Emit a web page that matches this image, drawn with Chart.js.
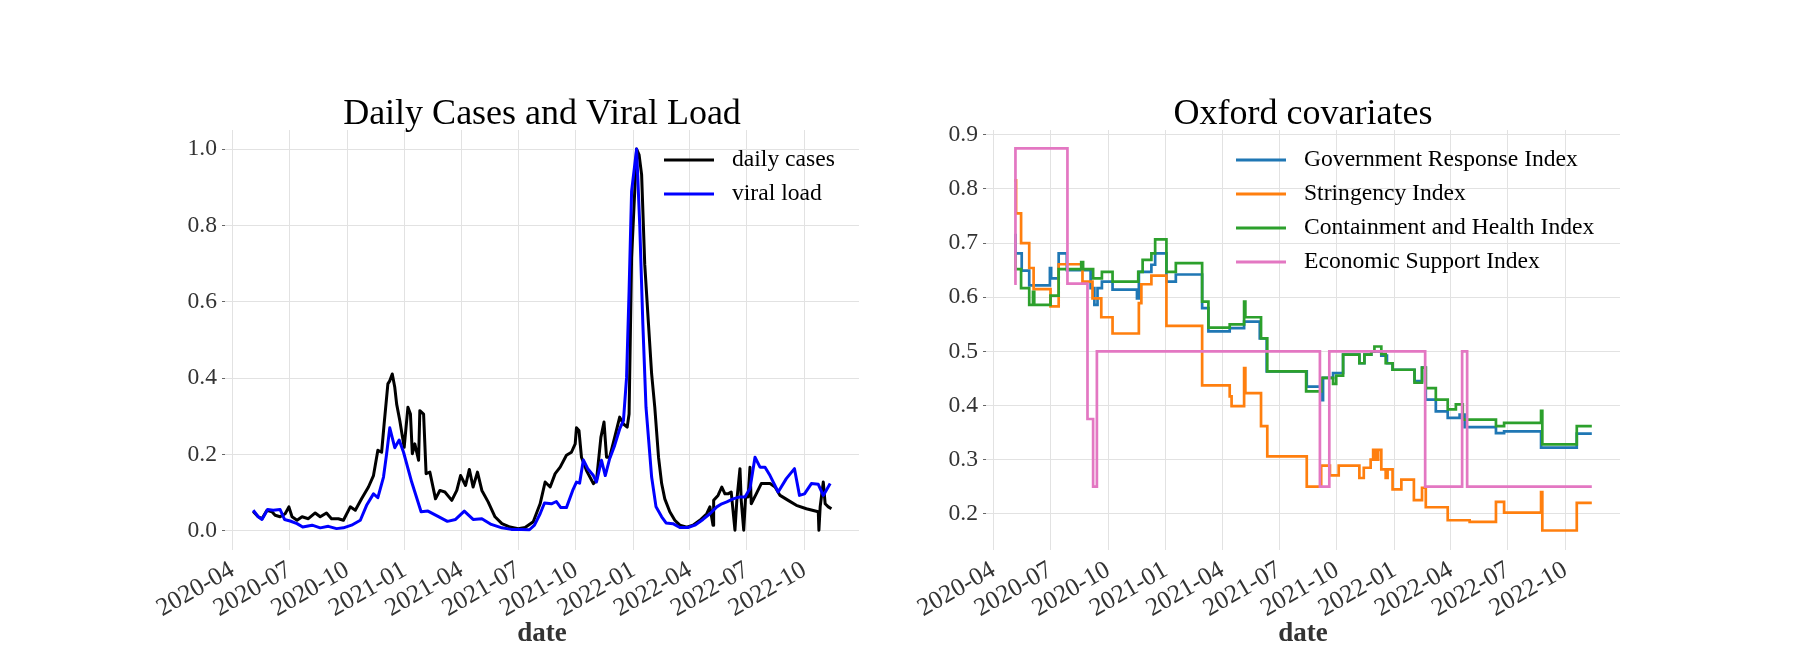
<!DOCTYPE html>
<html>
<head>
<meta charset="utf-8">
<title>Daily Cases and Viral Load / Oxford covariates</title>
<script src="https://cdn.jsdelivr.net/npm/chart.js@4.4.0/dist/chart.umd.min.js"></script>
<style>
  html, body { margin: 0; padding: 0; background: #fff; }
  #wrap { position: relative; width: 1800px; height: 648px; }
  canvas { position: absolute; top: 0; }
  #casesChart { left: 0; }
  #oxfordChart { left: 900px; }
</style>
</head>
<body>
<div id="wrap">
  <canvas id="casesChart" width="900" height="648"></canvas>
  <canvas id="oxfordChart" width="900" height="648"></canvas>
</div>
<script>
// x axis: quarter ticks
const tickDates = ['2020-04-01', '2020-07-01', '2020-10-01', '2021-01-01', '2021-04-01', '2021-07-01',
    '2021-10-01', '2022-01-01', '2022-04-01', '2022-07-01', '2022-10-01'];
const tickLabels = ['2020-04', '2020-07', '2020-10', '2021-01', '2021-04', '2021-07',
    '2021-10', '2022-01', '2022-04', '2022-07', '2022-10'];
const xMin = '2020-03-20';
const xMax = '2022-12-27';

// y axis ticks
const casesTicks = [0, 0.2, 0.4, 0.6, 0.8, 1.0];
const oxfordTicks = [0.2, 0.3, 0.4, 0.5, 0.6, 0.7, 0.8, 0.9];

// Daily cases (normalised)
const casesDates = [
    '2020-05-04', '2020-05-12', '2020-05-18', '2020-05-26', '2020-06-03', '2020-06-08', '2020-06-16', '2020-06-24', '2020-06-30', '2020-07-05',
    '2020-07-13', '2020-07-21', '2020-07-31', '2020-08-11', '2020-08-19', '2020-08-29', '2020-09-06', '2020-09-17', '2020-09-25', '2020-10-06',
    '2020-10-14', '2020-10-24', '2020-11-04', '2020-11-12', '2020-11-19', '2020-11-25', '2020-11-29', '2020-12-05', '2020-12-08', '2020-12-12',
    '2020-12-16', '2020-12-19', '2020-12-24', '2020-12-31', '2021-01-06', '2021-01-10', '2021-01-13', '2021-01-17', '2021-01-23', '2021-01-25',
    '2021-01-31', '2021-02-04', '2021-02-10', '2021-02-19', '2021-02-26', '2021-03-06', '2021-03-17', '2021-03-25', '2021-03-31', '2021-04-08',
    '2021-04-14', '2021-04-20', '2021-04-27', '2021-05-04', '2021-05-14', '2021-05-25', '2021-06-05', '2021-06-18', '2021-07-01', '2021-07-12',
    '2021-07-25', '2021-08-05', '2021-08-13', '2021-08-21', '2021-08-29', '2021-09-06', '2021-09-16', '2021-09-24', '2021-09-30', '2021-10-02',
    '2021-10-06', '2021-10-10', '2021-10-18', '2021-10-29', '2021-11-03', '2021-11-10', '2021-11-15', '2021-11-19', '2021-11-24', '2021-12-02',
    '2021-12-10', '2021-12-16', '2021-12-22', '2021-12-25', '2021-12-29', '2022-01-03', '2022-01-06', '2022-01-10', '2022-01-14', '2022-01-19',
    '2022-01-25', '2022-01-30', '2022-02-04', '2022-02-10', '2022-02-15', '2022-02-20', '2022-02-28', '2022-03-08', '2022-03-16', '2022-03-27',
    '2022-04-06', '2022-04-17', '2022-04-28', '2022-05-03', '2022-05-08', '2022-05-09', '2022-05-16', '2022-05-22', '2022-05-27', '2022-06-01',
    '2022-06-06', '2022-06-12', '2022-06-15', '2022-06-20', '2022-06-22', '2022-06-26', '2022-06-29', '2022-07-03', '2022-07-06', '2022-07-08',
    '2022-07-16', '2022-07-24', '2022-08-07', '2022-08-15', '2022-08-23', '2022-09-05', '2022-09-18', '2022-10-04', '2022-10-23', '2022-10-24',
    '2022-10-26', '2022-10-31', '2022-11-03', '2022-11-08', '2022-11-13'
];
const casesValues = [
    0.051, 0.037, 0.032, 0.054, 0.050, 0.041, 0.037, 0.045, 0.063, 0.037,
    0.028, 0.037, 0.032, 0.047, 0.037, 0.047, 0.032, 0.032, 0.028, 0.063,
    0.054, 0.084, 0.115, 0.145, 0.211, 0.206, 0.280, 0.385, 0.393, 0.411,
    0.376, 0.332, 0.289, 0.219, 0.324, 0.306, 0.202, 0.228, 0.185, 0.315,
    0.306, 0.150, 0.154, 0.084, 0.106, 0.102, 0.080, 0.106, 0.145, 0.119,
    0.161, 0.115, 0.154, 0.106, 0.076, 0.037, 0.019, 0.010, 0.006, 0.009,
    0.024, 0.071, 0.128, 0.115, 0.150, 0.167, 0.198, 0.206, 0.228, 0.270,
    0.263, 0.193, 0.158, 0.124, 0.132, 0.245, 0.285, 0.193, 0.193, 0.245,
    0.298, 0.280, 0.272, 0.306, 0.715, 0.889, 1.000, 0.985, 0.933, 0.698,
    0.541, 0.411, 0.324, 0.193, 0.124, 0.084, 0.050, 0.028, 0.015, 0.010,
    0.015, 0.028, 0.045, 0.063, 0.015, 0.080, 0.093, 0.115, 0.097, 0.097,
    0.102, 0.002, 0.080, 0.163, 0.080, 0.002, 0.089, 0.089, 0.167, 0.071,
    0.097, 0.124, 0.124, 0.115, 0.093, 0.080, 0.067, 0.058, 0.050, 0.002,
    0.063, 0.128, 0.071, 0.063, 0.058
];

// Viral load (normalised)
const viralDates = [
    '2020-05-04', '2020-05-12', '2020-05-18', '2020-05-27', '2020-06-05', '2020-06-16', '2020-06-23', '2020-07-02', '2020-07-13', '2020-07-22',
    '2020-08-06', '2020-08-19', '2020-09-01', '2020-09-14', '2020-09-25', '2020-10-08', '2020-10-22', '2020-11-01', '2020-11-12', '2020-11-19',
    '2020-11-28', '2020-12-03', '2020-12-08', '2020-12-16', '2020-12-23', '2020-12-30', '2021-01-12', '2021-01-27', '2021-02-07', '2021-02-23',
    '2021-03-10', '2021-03-23', '2021-04-06', '2021-04-20', '2021-05-04', '2021-05-19', '2021-06-05', '2021-06-20', '2021-07-06', '2021-07-19',
    '2021-07-27', '2021-08-05', '2021-08-12', '2021-08-23', '2021-08-31', '2021-09-07', '2021-09-16', '2021-09-26', '2021-10-02', '2021-10-07',
    '2021-10-13', '2021-10-20', '2021-10-29', '2021-11-03', '2021-11-11', '2021-11-17', '2021-11-24', '2021-12-02', '2021-12-10', '2021-12-16',
    '2021-12-21', '2021-12-25', '2021-12-29', '2022-01-06', '2022-01-11', '2022-01-16', '2022-01-21', '2022-01-30', '2022-02-06', '2022-02-15',
    '2022-02-22', '2022-03-05', '2022-03-16', '2022-03-29', '2022-04-09', '2022-04-22', '2022-05-03', '2022-05-14', '2022-05-22', '2022-05-30',
    '2022-06-09', '2022-06-20', '2022-06-28', '2022-07-06', '2022-07-14', '2022-07-22', '2022-07-30', '2022-08-07', '2022-08-20', '2022-09-02',
    '2022-09-15', '2022-09-23', '2022-10-01', '2022-10-12', '2022-10-23', '2022-10-31', '2022-11-11'
];
const viralValues = [
    0.054, 0.037, 0.030, 0.056, 0.054, 0.056, 0.030, 0.026, 0.019, 0.010,
    0.015, 0.008, 0.012, 0.006, 0.008, 0.015, 0.028, 0.067, 0.097, 0.087,
    0.141, 0.202, 0.270, 0.218, 0.238, 0.206, 0.128, 0.050, 0.052, 0.038,
    0.025, 0.030, 0.052, 0.030, 0.032, 0.017, 0.008, 0.004, 0.004, 0.003,
    0.015, 0.045, 0.073, 0.071, 0.077, 0.061, 0.061, 0.106, 0.128, 0.125,
    0.186, 0.163, 0.145, 0.128, 0.185, 0.145, 0.189, 0.224, 0.267, 0.289,
    0.402, 0.628, 0.889, 1.000, 0.802, 0.541, 0.324, 0.141, 0.063, 0.037,
    0.021, 0.019, 0.009, 0.009, 0.015, 0.030, 0.045, 0.063, 0.071, 0.076,
    0.084, 0.089, 0.089, 0.111, 0.193, 0.167, 0.167, 0.145, 0.102, 0.137,
    0.163, 0.093, 0.097, 0.124, 0.122, 0.093, 0.124
];

// Oxford indices: date of each change and the new value
const govDates = [
    '2020-05-04', '2020-05-06', '2020-05-16', '2020-05-28', '2020-06-30', '2020-07-02', '2020-07-14', '2020-07-27', '2020-09-03', '2020-09-09',
    '2020-09-14', '2020-09-21', '2020-10-08', '2020-11-16', '2020-11-19', '2020-12-09', '2020-12-15', '2021-01-02', '2021-01-17', '2021-02-28',
    '2021-03-10', '2021-04-13', '2021-05-06', '2021-05-31', '2021-06-11', '2021-08-14', '2021-09-06', '2021-09-09', '2021-09-25', '2021-10-11',
    '2021-11-06', '2021-11-14', '2021-11-25', '2021-12-11', '2021-12-20', '2021-12-29', '2022-02-02', '2022-02-14', '2022-02-20', '2022-03-08',
    '2022-03-27', '2022-04-15', '2022-04-23', '2022-06-12', '2022-06-25', '2022-08-23', '2022-10-19', '2022-11-12'
];
const govValues = [
    0.715, 0.681, 0.649, 0.622, 0.654, 0.635, 0.681, 0.650, 0.617, 0.586,
    0.617, 0.629, 0.614, 0.598, 0.647, 0.660, 0.681, 0.629, 0.642, 0.580,
    0.537, 0.543, 0.555, 0.524, 0.463, 0.435, 0.410, 0.451, 0.460, 0.494,
    0.478, 0.494, 0.500, 0.492, 0.478, 0.466, 0.445, 0.470, 0.411, 0.389,
    0.377, 0.383, 0.360, 0.349, 0.352, 0.322, 0.348, 0.348
];

const stringencyDates = [
    '2020-05-04', '2020-05-07', '2020-05-15', '2020-05-28', '2020-06-04', '2020-07-01', '2020-07-14', '2020-08-21', '2020-09-06', '2020-09-20',
    '2020-10-08', '2020-11-19', '2020-11-23', '2020-12-09', '2021-01-02', '2021-02-28', '2021-04-13', '2021-04-16', '2021-05-06', '2021-05-08',
    '2021-06-02', '2021-06-12', '2021-08-14', '2021-09-06', '2021-09-20', '2021-10-04', '2021-11-06', '2021-11-13', '2021-11-24', '2021-11-28',
    '2021-12-02', '2021-12-06', '2021-12-11', '2021-12-18', '2021-12-21', '2021-12-29', '2022-01-12', '2022-02-01', '2022-02-14', '2022-02-20',
    '2022-03-27', '2022-05-01', '2022-06-12', '2022-06-25', '2022-08-23', '2022-08-25', '2022-10-19', '2022-11-12'
];
const stringencyValues = [
    0.816, 0.755, 0.700, 0.654, 0.615, 0.583, 0.661, 0.629, 0.598, 0.563,
    0.533, 0.589, 0.624, 0.640, 0.547, 0.437, 0.417, 0.399, 0.469, 0.423,
    0.362, 0.306, 0.250, 0.289, 0.271, 0.289, 0.266, 0.285, 0.300, 0.318,
    0.300, 0.318, 0.282, 0.266, 0.282, 0.245, 0.263, 0.225, 0.248, 0.212,
    0.188, 0.185, 0.222, 0.202, 0.240, 0.169, 0.220, 0.220
];

const containmentDates = [
    '2020-05-04', '2020-05-06', '2020-05-15', '2020-05-28', '2020-06-03', '2020-06-05', '2020-07-01', '2020-07-14', '2020-08-19', '2020-08-22',
    '2020-09-07', '2020-09-21', '2020-10-08', '2020-11-18', '2020-11-25', '2020-12-09', '2020-12-15', '2021-01-02', '2021-01-17', '2021-02-28',
    '2021-03-10', '2021-04-13', '2021-05-06', '2021-05-08', '2021-06-02', '2021-06-12', '2021-08-13', '2021-09-06', '2021-09-25', '2021-09-30',
    '2021-10-11', '2021-11-06', '2021-11-14', '2021-11-25', '2021-11-30', '2021-12-11', '2021-12-18', '2021-12-29', '2022-02-02', '2022-02-14',
    '2022-02-20', '2022-03-08', '2022-03-27', '2022-04-09', '2022-04-20', '2022-06-12', '2022-06-25', '2022-08-23', '2022-08-25', '2022-10-19',
    '2022-11-12'
];
const containmentValues = [
    0.680, 0.652, 0.617, 0.586, 0.610, 0.586, 0.603, 0.652, 0.665, 0.652,
    0.635, 0.647, 0.629, 0.647, 0.669, 0.681, 0.707, 0.647, 0.663, 0.592,
    0.544, 0.550, 0.592, 0.563, 0.524, 0.463, 0.426, 0.451, 0.440, 0.455,
    0.494, 0.478, 0.494, 0.500, 0.509, 0.495, 0.478, 0.466, 0.442, 0.470,
    0.432, 0.411, 0.393, 0.402, 0.374, 0.362, 0.368, 0.390, 0.328, 0.362,
    0.362
];

const economicDates = [
    '2020-05-04', '2020-05-06', '2020-07-28', '2020-08-29', '2020-09-07', '2020-09-13',
    '2021-09-04', '2021-09-19', '2022-02-19', '2022-04-19', '2022-04-27', '2022-11-12'
];
const economicValues = [0.625, 0.875, 0.625, 0.375, 0.250, 0.500, 0.250, 0.500, 0.250, 0.500, 0.250, 0.250];

const serif = "'Liberation Serif', 'DejaVu Serif', serif";
const gridColor = '#e2e2e2';
const tickColor = '#333333';

Chart.defaults.font.family = serif;

function toPoints(dates, values) {
    return dates.map((d, i) => ({ x: Date.parse(d), y: values[i] }));
}

// Title above the panel and a frameless legend in its upper right corner
const panelText = {
    id: 'panelText',
    afterDatasetsDraw(chart, args, opts) {
        const ctx = chart.ctx;
        const area = chart.chartArea;
        ctx.save();
        ctx.fillStyle = '#000';
        ctx.font = '36px ' + serif;
        ctx.textAlign = 'center';
        ctx.textBaseline = 'alphabetic';
        ctx.fillText(opts.title, (area.left + area.right) / 2, 124);

        ctx.font = '23.6px ' + serif;
        ctx.textAlign = 'left';
        ctx.textBaseline = 'middle';
        chart.data.datasets.forEach((ds, i) => {
            const y = opts.legendTop + i * 34;
            const x0 = area.right - opts.legendRight;
            ctx.strokeStyle = ds.borderColor;
            ctx.lineWidth = 3;
            ctx.beginPath();
            ctx.moveTo(x0, y);
            ctx.lineTo(x0 + 50, y);
            ctx.stroke();
            ctx.fillStyle = '#000';
            ctx.fillText(ds.label, x0 + 68, y);
        });
        ctx.restore();
    }
};

function xScale() {
    return {
        type: 'linear',
        min: Date.parse(xMin),
        max: Date.parse(xMax),
        afterBuildTicks: s => { s.ticks = tickDates.map(d => ({ value: Date.parse(d) })); },
        afterFit: s => { s.height = 98; },
        grid: { color: gridColor, lineWidth: 1, drawTicks: false },
        border: { display: false },
        ticks: {
            autoSkip: false,
            minRotation: 30,
            maxRotation: 30,
            padding: 5,
            color: tickColor,
            font: { size: 25.5 },
            callback: (v, i) => tickLabels[i]
        },
        title: {
            display: true,
            text: 'date',
            color: '#333333',
            font: { size: 27, weight: 'bold' },
            padding: { top: 0, bottom: -2 }
        }
    };
}

function yScale(min, max, ticks, width) {
    return {
        min: min,
        max: max,
        afterBuildTicks: s => { s.ticks = ticks.map(v => ({ value: v })); },
        afterFit: s => { s.width = width; },
        grid: { color: gridColor, lineWidth: 1, tickLength: 3, tickColor: '#666666' },
        border: { display: false },
        ticks: { padding: 5, color: tickColor, font: { size: 23.6 }, callback: v => v.toFixed(1) }
    };
}

function baseOptions(title, legendRight, padRight, yMin, yMax, yTicks, yWidth) {
    return {
        responsive: false,
        animation: false,
        events: [],
        layout: { padding: { left: 0, top: 130, right: padRight, bottom: 0 } },
        plugins: {
            legend: { display: false },
            tooltip: { enabled: false },
            panelText: { title: title, legendRight: legendRight, legendTop: 160 }
        },
        scales: {
            x: xScale(),
            y: yScale(yMin, yMax, yTicks, yWidth)
        }
    };
}

// Daily cases and viral load
new Chart(document.getElementById('casesChart'), {
    type: 'line',
    data: {
        datasets: [
            {
                label: 'daily cases',
                data: toPoints(casesDates, casesValues),
                borderColor: '#000000',
                borderWidth: 3,
                order: 2
            },
            {
                label: 'viral load',
                data: toPoints(viralDates, viralValues),
                borderColor: '#0000ff',
                borderWidth: 3,
                order: 1
            }
        ]
    },
    options: Object.assign(baseOptions('Daily Cases and Viral Load', 195, 41, -0.05, 1.05, casesTicks, 225), {
        elements: { point: { radius: 0 }, line: { tension: 0, borderJoinStyle: 'round' } }
    }),
    plugins: [panelText]
});

// Oxford covariates (step series)
new Chart(document.getElementById('oxfordChart'), {
    type: 'line',
    data: {
        datasets: [
            { label: 'Government Response Index', data: toPoints(govDates, govValues), borderColor: '#1f77b4', order: 4 },
            { label: 'Stringency Index', data: toPoints(stringencyDates, stringencyValues), borderColor: '#ff7f0e', order: 3 },
            { label: 'Containment and Health Index', data: toPoints(containmentDates, containmentValues), borderColor: '#2ca02c', order: 2 },
            { label: 'Economic Support Index', data: toPoints(economicDates, economicValues), borderColor: '#e377c2', order: 1 }
        ]
    },
    options: Object.assign(baseOptions('Oxford covariates', 384, 180, 0.133, 0.909, oxfordTicks, 86), {
        elements: {
            point: { radius: 0 },
            line: { tension: 0, borderWidth: 2.7, stepped: 'before', borderJoinStyle: 'miter' }
        }
    }),
    plugins: [panelText]
});
</script>
</body>
</html>
